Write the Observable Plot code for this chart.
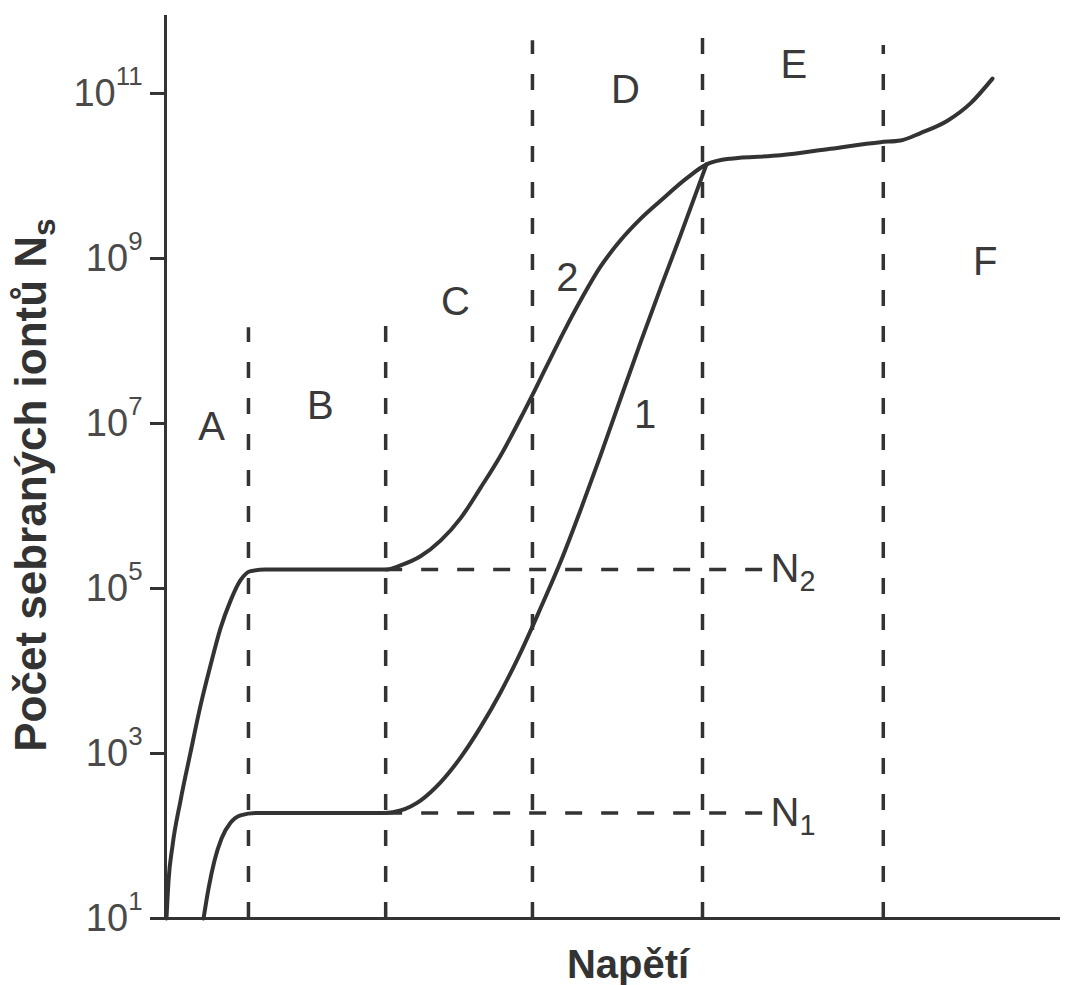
<!DOCTYPE html>
<html>
<head>
<meta charset="utf-8">
<script src="https://cdn.jsdelivr.net/npm/d3@7"></script>
<script src="https://cdn.jsdelivr.net/npm/@observablehq/plot@0.6"></script>
<style>
  body { margin: 0; background: #fff; }
  #chart svg { display: block; background: #fff; }
</style>
</head>
<body>
<div id="chart"></div>
<script>
// ---- Data (x: voltage in arbitrary units 0..100, exponents: log10 of ion count) ----
const tickExponents = [1, 3, 5, 7, 9, 11];

// Curve 2 (higher primary ionisation)
const curve2X   = [0.11, 0.34, 0.78, 1.68, 2.79, 3.91, 5.03, 6.15, 7.26, 8.38, 9.50, 11.17, 24.58, 26.26, 28.49, 30.73, 32.96, 35.20, 37.43, 39.66, 41.34, 43.02, 44.69, 46.37, 48.60, 50.84, 53.07, 55.31, 58.32, 60.45, 63.13, 68.72, 74.30, 79.89, 82.12, 84.36, 87.37, 89.94, 92.40];
const curve2Exp = [1.0, 1.46, 1.88, 2.43, 3.01, 3.58, 4.07, 4.52, 4.85, 5.10, 5.21, 5.23, 5.23, 5.28, 5.39, 5.58, 5.85, 6.22, 6.61, 7.06, 7.42, 7.79, 8.15, 8.49, 8.90, 9.22, 9.48, 9.70, 9.98, 10.14, 10.21, 10.25, 10.33, 10.41, 10.43, 10.52, 10.67, 10.88, 11.18];

// Curve 1 (lower primary ionisation)
const curve1X   = [4.25, 4.80, 5.47, 6.26, 7.26, 8.38, 10.06, 24.58, 26.26, 28.49, 30.73, 32.96, 35.20, 37.43, 39.66, 41.90, 44.13, 46.37, 48.60, 50.84, 53.07, 55.31, 57.54, 60.45];
const curve1Exp = [1.0, 1.36, 1.70, 1.97, 2.16, 2.25, 2.28, 2.28, 2.31, 2.43, 2.65, 2.95, 3.32, 3.74, 4.22, 4.76, 5.32, 5.95, 6.61, 7.30, 7.98, 8.64, 9.28, 10.14];

// Region boundaries (dashed verticals)
const boundaryX      = [9.27, 24.6, 41.0, 60.0, 80.2];
const boundaryTopExp = [8.16, 8.19, 11.64, 11.88, 11.58];

// Region letters
const regionLabels = ["A", "B", "C", "D", "E", "F"];
const regionX      = [5.14, 17.3, 32.4, 51.4, 70.2, 91.6];
const regionExp    = [6.96, 7.21, 8.47, 11.04, 11.34, 8.95];

// Curve numbers
const curveLabels = ["1", "2"];
const curveLabelX = [53.6, 44.9];
const curveLabelExp = [7.10, 8.76];

// Saturation levels N1, N2 (horizontal dashed)
const levelNames = ["N_{1}", "N_{2}"];
const levelExp   = [2.28, 5.23];
const levelFromX = 24.6;
const levelToX   = 66.8;
const levelLabelX = 67.6;

const yMinExp = 1, yMaxExp = 11.945;

// ---- Build tables ----
const c2 = curve2X.map((x, i) => ({x, y: 10 ** curve2Exp[i]}));
const c1 = curve1X.map((x, i) => ({x, y: 10 ** curve1Exp[i]}));
const bounds = boundaryX.map((x, i) => ({x, top: 10 ** boundaryTopExp[i]}));
const regions = regionLabels.map((t, i) => ({t, x: regionX[i], y: 10 ** regionExp[i]}));
const cLabels = curveLabels.map((t, i) => ({t, x: curveLabelX[i], y: 10 ** curveLabelExp[i]}));
const levels = levelNames.map((t, i) => ({t, y: 10 ** levelExp[i]}));

const ink = "#333";
const grey = "#4a4a4a";
const tickFont = 38;

const chart = Plot.plot({
  width: 1075,
  height: 985,
  marginLeft: 165,
  marginRight: 15,
  marginTop: 15,
  marginBottom: 67,
  style: {fontFamily: "'Liberation Sans', Arial, Helvetica, sans-serif", background: "#fff"},
  x: {domain: [0, 100], axis: null},
  y: {type: "log", domain: [10 ** yMinExp, 10 ** yMaxExp], axis: null},
  marks: [
    Plot.ruleX(bounds, {x: "x", y1: 10 ** yMinExp, y2: "top", stroke: ink, strokeWidth: 3.5, strokeDasharray: "16,20"}),
    Plot.ruleY(levels, {y: "y", x1: levelFromX, x2: levelToX, stroke: ink, strokeWidth: 3.5, strokeDasharray: "17,19"}),
    Plot.ruleX([0], {stroke: ink, strokeWidth: 3}),
    Plot.ruleY([10 ** yMinExp], {stroke: ink, strokeWidth: 3}),
    Plot.axisY({
      ticks: tickExponents.map(e => 10 ** e),
      tickFormat: d => `10^{${Math.round(Math.log10(d))}}`,
      tickSize: 15,
      tickPadding: 8,
      strokeWidth: 3,
      stroke: ink,
      fill: grey,
      fontSize: tickFont,
      label: null
    }),
    Plot.line(c2, {x: "x", y: "y", curve: "monotone-x", stroke: ink, strokeWidth: 4}),
    Plot.line(c1, {x: "x", y: "y", curve: "monotone-x", stroke: ink, strokeWidth: 4}),
    Plot.text(regions, {x: "x", y: "y", text: "t", fontSize: 40, fill: "#3a3a3a"}),
    Plot.text(cLabels, {x: "x", y: "y", text: "t", fontSize: 40, fill: "#3a3a3a"}),
    Plot.text(levels, {x: levelLabelX, y: "y", text: "t", fontSize: 40, fill: "#3a3a3a", textAnchor: "start"}),
    Plot.text(["Počet sebraných iontů N_{s}"], {frameAnchor: "left", textAnchor: "middle", lineAnchor: "middle", rotate: -90, dx: -134, dy: 18, fontSize: 44, fontWeight: "bold", fill: ink}),
    Plot.text(["Napětí"], {frameAnchor: "bottom", textAnchor: "middle", lineAnchor: "middle", dx: 15, dy: 47, fontSize: 40, fontWeight: "bold", fill: ink})
  ]
});

function fontSizeOf(el) {
  for (let n = el; n && n.getAttribute; n = n.parentNode) {
    const a = n.getAttribute("font-size");
    if (a) return parseFloat(a);
  }
  return 36;
}

// Convert ^{..} and _{..} into superscript / subscript tspans
d3.select(chart).selectAll("text").each(function () {
  const el = this;
  const s = el.textContent;
  if (!/[\^_]\{/.test(s)) return;
  const fs = fontSizeOf(el);
  el.setAttribute("font-size", fs);
  const parts = [];
  const re = /([\^_])\{([^}]*)\}/g;
  let last = 0, m;
  while ((m = re.exec(s))) {
    if (m.index > last) parts.push({t: s.slice(last, m.index), k: ""});
    parts.push({t: m[2], k: m[1]});
    last = re.lastIndex;
  }
  if (last < s.length) parts.push({t: s.slice(last), k: ""});
  while (el.firstChild) el.removeChild(el.firstChild);
  let shift = 0;
  for (const p of parts) {
    const ts = document.createElementNS("http://www.w3.org/2000/svg", "tspan");
    ts.textContent = p.t;
    let target = 0;
    if (p.k === "^") { target = -0.55 * fs; ts.setAttribute("font-size", 0.68 * fs); }
    else if (p.k === "_") { target = 0.22 * fs; ts.setAttribute("font-size", 0.72 * fs); }
    if (target - shift !== 0) ts.setAttribute("dy", target - shift);
    shift = target;
    el.appendChild(ts);
  }
});

document.getElementById("chart").appendChild(chart);
</script>
</body>
</html>
